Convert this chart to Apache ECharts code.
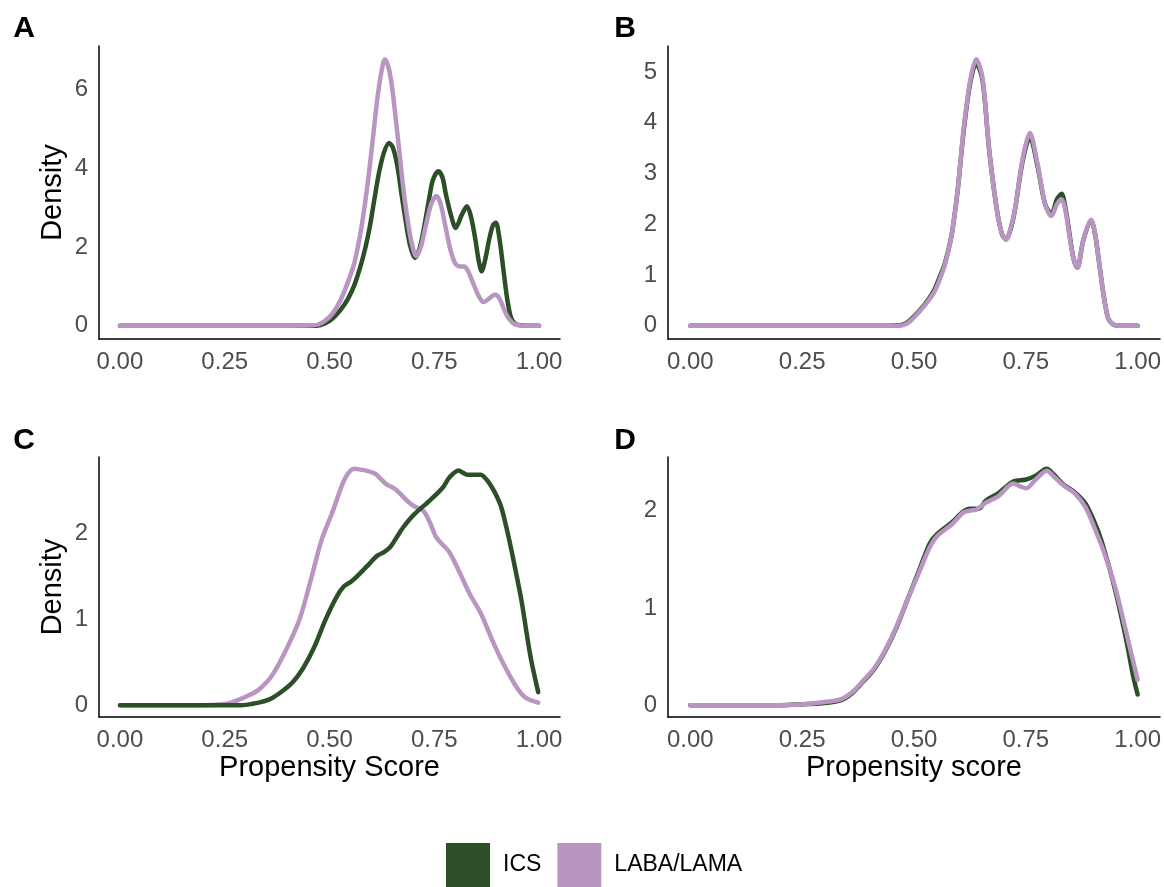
<!DOCTYPE html>
<html>
<head>
<meta charset="utf-8">
<script src="https://cdn.jsdelivr.net/npm/echarts@6/dist/echarts.min.js"></script>
<style>
html,body{margin:0;padding:0;background:#fff;}
#chart{width:1164px;height:887px;}
</style>
</head>
<body>
<div id="chart"></div>
<script>
// ---- data ----
const seriesNames = ['ICS', 'LABA/LAMA'];
const xTicks = [0, 0.25, 0.5, 0.75, 1];
const yTicksA = [0, 2, 4, 6];
const yTicksB = [0, 1, 2, 3, 4, 5];
const yTicksC = [0, 1, 2];
const yTicksD = [0, 1, 2];

const A_ICS = [[0,0],[0.1,0],[0.2,0],[0.3,0],[0.4,0],[0.47,0],[0.49,0.06],[0.508,0.19],[0.525,0.38],[0.543,0.66],[0.56,1.05],[0.574,1.51],[0.586,2.0],[0.596,2.5],[0.607,3.2],[0.618,3.88],[0.63,4.4],[0.642,4.64],[0.652,4.5],[0.662,4.05],[0.671,3.4],[0.68,2.78],[0.692,2.05],[0.704,1.72],[0.716,2.0],[0.729,2.69],[0.739,3.3],[0.747,3.71],[0.76,3.92],[0.77,3.75],[0.777,3.37],[0.79,2.8],[0.801,2.48],[0.815,2.8],[0.828,3.03],[0.838,2.75],[0.848,2.19],[0.856,1.65],[0.863,1.38],[0.872,1.7],[0.881,2.19],[0.89,2.55],[0.897,2.61],[0.905,2.25],[0.914,1.51],[0.923,0.75],[0.932,0.24],[0.94,0.08],[0.95,0.02],[0.97,0],[1,0]];
const A_LABA = [[0,0],[0.1,0],[0.2,0],[0.3,0],[0.4,0],[0.46,0.01],[0.473,0.03],[0.49,0.13],[0.508,0.32],[0.525,0.62],[0.543,1.08],[0.56,1.62],[0.574,2.36],[0.586,3.2],[0.596,4.05],[0.605,4.9],[0.614,5.75],[0.624,6.45],[0.632,6.76],[0.641,6.55],[0.65,6.0],[0.658,5.25],[0.667,4.39],[0.676,3.5],[0.685,2.78],[0.696,2.1],[0.707,1.76],[0.718,2.0],[0.73,2.55],[0.743,3.1],[0.755,3.29],[0.765,3.1],[0.776,2.55],[0.788,1.95],[0.8,1.58],[0.812,1.5],[0.822,1.5],[0.83,1.4],[0.842,1.1],[0.856,0.75],[0.868,0.6],[0.882,0.7],[0.895,0.79],[0.905,0.7],[0.914,0.48],[0.923,0.26],[0.935,0.09],[0.945,0.03],[0.96,0],[1,0]];

const B_ICS = [[0,0],[0.1,0],[0.2,0],[0.3,0],[0.4,0],[0.469,0.01],[0.486,0.07],[0.502,0.2],[0.524,0.42],[0.544,0.68],[0.557,0.95],[0.568,1.2],[0.577,1.5],[0.585,1.83],[0.598,2.7],[0.61,3.75],[0.625,4.75],[0.639,5.17],[0.653,4.85],[0.668,3.47],[0.685,2.3],[0.697,1.8],[0.706,1.7],[0.716,1.9],[0.726,2.3],[0.743,3.25],[0.759,3.72],[0.776,3.15],[0.793,2.4],[0.807,2.2],[0.82,2.5],[0.83,2.6],[0.838,2.35],[0.847,1.85],[0.856,1.35],[0.865,1.14],[0.879,1.7],[0.896,2.07],[0.905,1.8],[0.913,1.3],[0.924,0.6],[0.934,0.15],[0.943,0.04],[0.95,0.01],[0.97,0],[1,0]];
const B_LABA = [[0,0],[0.1,0],[0.2,0],[0.3,0],[0.4,0],[0.469,0],[0.486,0.05],[0.502,0.18],[0.524,0.4],[0.544,0.64],[0.557,0.9],[0.568,1.17],[0.577,1.48],[0.585,1.83],[0.598,2.7],[0.61,3.8],[0.625,4.8],[0.639,5.25],[0.653,4.9],[0.668,3.47],[0.685,2.3],[0.697,1.8],[0.706,1.7],[0.716,1.92],[0.726,2.3],[0.743,3.3],[0.759,3.8],[0.776,3.2],[0.793,2.4],[0.807,2.16],[0.82,2.4],[0.83,2.49],[0.838,2.3],[0.847,1.8],[0.856,1.35],[0.865,1.14],[0.879,1.7],[0.896,2.09],[0.905,1.8],[0.913,1.3],[0.924,0.6],[0.934,0.15],[0.943,0.04],[0.95,0.01],[0.97,0],[1,0]];

const C_ICS = [[0,0],[0.1,0],[0.2,0],[0.25,0],[0.287,0],[0.331,0.03],[0.358,0.07],[0.384,0.15],[0.411,0.26],[0.437,0.43],[0.464,0.68],[0.49,0.99],[0.517,1.26],[0.534,1.38],[0.552,1.44],[0.57,1.52],[0.596,1.65],[0.614,1.74],[0.63,1.78],[0.645,1.84],[0.66,1.95],[0.676,2.07],[0.702,2.22],[0.739,2.38],[0.77,2.53],[0.786,2.65],[0.808,2.73],[0.82,2.7],[0.83,2.68],[0.861,2.68],[0.872,2.64],[0.883,2.57],[0.897,2.45],[0.91,2.3],[0.923,2.05],[0.936,1.76],[0.958,1.22],[0.97,0.85],[0.981,0.53],[0.998,0.15]];
const C_LABA = [[0,0],[0.1,0],[0.2,0],[0.243,0.01],[0.265,0.03],[0.287,0.07],[0.31,0.12],[0.331,0.18],[0.362,0.34],[0.393,0.61],[0.428,0.99],[0.455,1.45],[0.481,1.92],[0.508,2.26],[0.534,2.61],[0.55,2.73],[0.561,2.75],[0.575,2.74],[0.587,2.73],[0.61,2.69],[0.625,2.62],[0.636,2.57],[0.658,2.51],[0.685,2.38],[0.7,2.32],[0.724,2.26],[0.74,2.12],[0.755,1.95],[0.786,1.78],[0.808,1.57],[0.834,1.3],[0.861,1.07],[0.888,0.76],[0.914,0.49],[0.945,0.22],[0.967,0.09],[0.998,0.03]];

const D_ICS = [[0,0],[0.1,0],[0.2,0],[0.253,0.01],[0.295,0.02],[0.336,0.05],[0.361,0.12],[0.386,0.24],[0.411,0.37],[0.436,0.56],[0.461,0.8],[0.485,1.08],[0.51,1.37],[0.535,1.66],[0.552,1.76],[0.585,1.88],[0.61,1.99],[0.625,2.02],[0.645,2.02],[0.66,2.1],[0.689,2.18],[0.722,2.3],[0.751,2.32],[0.772,2.36],[0.797,2.43],[0.813,2.37],[0.834,2.27],[0.859,2.19],[0.884,2.07],[0.909,1.82],[0.925,1.6],[0.95,1.18],[0.975,0.66],[0.99,0.3],[1.0,0.11]];
const D_LABA = [[0,0],[0.1,0],[0.2,0],[0.253,0.01],[0.295,0.03],[0.336,0.06],[0.361,0.13],[0.386,0.25],[0.411,0.38],[0.436,0.57],[0.461,0.81],[0.485,1.08],[0.51,1.35],[0.535,1.62],[0.552,1.74],[0.585,1.86],[0.61,1.98],[0.625,2.0],[0.639,2.01],[0.66,2.08],[0.689,2.15],[0.722,2.28],[0.737,2.25],[0.751,2.23],[0.772,2.32],[0.797,2.41],[0.813,2.35],[0.834,2.26],[0.859,2.18],[0.884,2.03],[0.909,1.76],[0.925,1.57],[0.95,1.21],[0.975,0.74],[1.0,0.26]];

// ---- chart ----
const GREEN = '#2c4f27';
const PURPLE = '#b995c1';
const FONT = 'Liberation Sans, Arial, sans-serif';
const TICKCOL = '#4d4d4d';

const grids = [
  {left: 99, top: 46, width: 461, height: 293},
  {left: 668, top: 46, width: 492, height: 293},
  {left: 99, top: 457, width: 461, height: 260},
  {left: 668, top: 457, width: 492, height: 260}
];
const yRanges = [[-0.338, 7.1], [-0.2625, 5.5125], [-0.1375, 2.8875], [-0.1215, 2.5515]];
const yTicks = [yTicksA, yTicksB, yTicksC, yTicksD];
const yNames = ['Density', '', 'Density', ''];
const xNames = ['', '', 'Propensity Score', 'Propensity score'];
const panelData = [[A_ICS, A_LABA], [B_ICS, B_LABA], [C_ICS, C_LABA], [D_ICS, D_LABA]];
const greenOnTop = [false, false, true, false];

const axisLine = {show: true, onZero: false, lineStyle: {color: '#000', width: 1.5}};

const xAxis = grids.map((g, i) => ({
  type: 'value', gridIndex: i, min: -0.05, max: 1.05,
  axisLine: axisLine, axisTick: {show: false}, splitLine: {show: false},
  axisLabel: {customValues: xTicks, formatter: v => v.toFixed(2), color: TICKCOL,
    fontSize: 24, fontFamily: FONT, margin: 11, lineHeight: 24},
  name: xNames[i], nameLocation: 'middle', nameGap: 36,
  nameTextStyle: {color: '#000', fontSize: 29, fontFamily: FONT, lineHeight: 30}
}));
const yAxis = grids.map((g, i) => ({
  type: 'value', gridIndex: i, min: yRanges[i][0], max: yRanges[i][1],
  axisLine: axisLine, axisTick: {show: false}, splitLine: {show: false},
  axisLabel: {customValues: yTicks[i], formatter: v => String(v), color: TICKCOL,
    fontSize: 24, fontFamily: FONT, margin: 11},
  name: yNames[i], nameLocation: 'middle', nameGap: 31, nameRotate: 90,
  nameTextStyle: {color: '#000', fontSize: 29, fontFamily: FONT, lineHeight: 30}
}));

const series = [];
panelData.forEach((pair, i) => {
  [GREEN, PURPLE].forEach((c, k) => {
    const top = greenOnTop[i] ? (k === 0) : (k === 1);
    series.push({
      type: 'line', name: seriesNames[k], xAxisIndex: i, yAxisIndex: i,
      data: pair[k], showSymbol: false, smooth: 0.3,
      lineStyle: {color: c, width: 4.5, cap: 'round', join: 'round'}, itemStyle: {color: c},
      z: top ? 4 : 2, animation: false, clip: false
    });
  });
});

const letters = ['A', 'B', 'C', 'D'];
const letterPos = [[24, 29], [625, 29], [24, 441], [625, 441]];

const option = {
  animation: false,
  grid: grids,
  xAxis: xAxis,
  yAxis: yAxis,
  series: series,
  legend: {
    data: [
      {name: 'ICS', itemStyle: {color: GREEN}},
      {name: 'LABA/LAMA', itemStyle: {color: PURPLE}}
    ],
    left: 446, top: 843, padding: 0, icon: 'rect', itemWidth: 44, itemHeight: 44, itemGap: 16,
    selectedMode: false,
    textStyle: {color: '#000', fontSize: 23, fontFamily: FONT, padding: [0, 0, 0, 8]}
  },
  graphic: letters.map((l, i) => ({
    type: 'text', x: letterPos[i][0], y: letterPos[i][1],
    style: {text: l, fontSize: 30, fontWeight: 'bold', fontFamily: FONT, fill: '#000',
      align: 'center', verticalAlign: 'middle'}
  }))
};

const chart = echarts.init(document.getElementById('chart'), null, {renderer: 'canvas'});
chart.setOption(option);
</script>
</body>
</html>
